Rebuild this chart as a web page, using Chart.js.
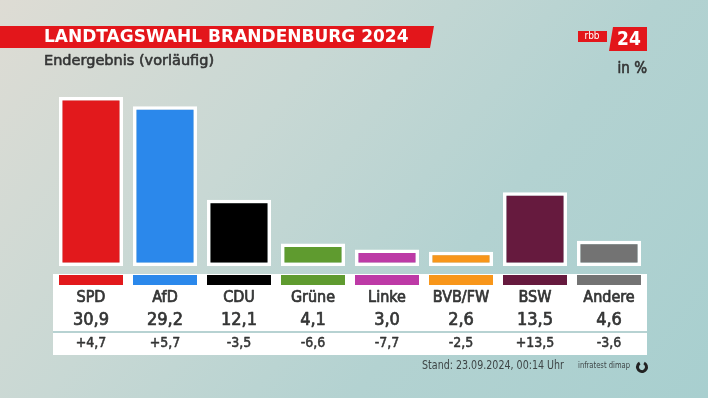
<!DOCTYPE html>
<html>
<head>
<meta charset="utf-8">
<script src="https://cdn.jsdelivr.net/npm/chart.js@4"></script>
<style>
  html, body { margin: 0; padding: 0; }
  body {
    width: 708px; height: 398px; overflow: hidden;
    background: linear-gradient(128deg, #dedcd4 0%, #c8d8d4 35%, #b3d2d1 65%, #a8cfcf 100%);
  }
  canvas { display: block; }
</style>
</head>
<body>
<canvas id="chart" width="708" height="398"></canvas>
<script>
const parties = ['SPD', 'AfD', 'CDU', 'Grüne', 'Linke', 'BVB/FW', 'BSW', 'Andere']
const results = [30.9, 29.2, 12.1, 4.1, 3.0, 2.6, 13.5, 4.6]
const changes = [4.7, 5.7, -3.5, -6.6, -7.7, -2.5, 13.5, -3.6]
const partyColors = ['#e2191c', '#2b88eb', '#000000', '#5f9b2f', '#bd3aa6', '#f8961a', '#661a3e', '#737373']

const FONT = '"DejaVu Sans Condensed", "Liberation Sans Narrow", "DejaVu Sans", sans-serif'
const WIDE = '"DejaVu Sans", "Open Sans", sans-serif'
const TEXT = '#343535'

function fmt(v) {
    return v.toFixed(1).replace('.', ',')
}
function fmtChange(v) {
    return (v > 0 ? '+' : '') + fmt(v)
}
// slightly heavier than regular weight
function medText(ctx, s, x, y, maxW) {
    ctx.fillText(s, x, y, maxW)
    ctx.strokeText(s, x, y, maxW)
}

const decor = {
    id: 'decor',
    beforeDraw(chart) {
        const ctx = chart.ctx
        const x = chart.scales.x
        ctx.save()
        ctx.textBaseline = 'middle'
        ctx.lineJoin = 'round'

        // title banner
        ctx.fillStyle = '#e3161b'
        ctx.beginPath()
        ctx.moveTo(0, 26)
        ctx.lineTo(434, 26)
        ctx.lineTo(430, 48)
        ctx.lineTo(0, 48)
        ctx.closePath()
        ctx.fill()
        ctx.fillStyle = '#ffffff'
        ctx.font = 'bold 17px ' + WIDE
        ctx.fillText('LANDTAGSWAHL BRANDENBURG 2024', 44, 38, 371)

        ctx.fillStyle = TEXT
        ctx.strokeStyle = TEXT
        ctx.lineWidth = 0.6
        ctx.font = '14.5px ' + WIDE
        medText(ctx, 'Endergebnis (vorläufig)', 44, 61, 180)

        // rbb24 logo
        ctx.fillStyle = '#e3161b'
        ctx.fillRect(578, 31, 29, 11)
        ctx.beginPath()
        ctx.moveTo(613, 27)
        ctx.lineTo(647, 27)
        ctx.lineTo(647, 51)
        ctx.lineTo(609, 51)
        ctx.closePath()
        ctx.fill()
        ctx.fillStyle = '#ffffff'
        ctx.font = '10px ' + FONT
        ctx.textAlign = 'center'
        ctx.fillText('rbb', 592, 36.5)
        ctx.font = 'bold 19px ' + FONT
        ctx.fillText('24', 629, 40)

        ctx.fillStyle = TEXT
        ctx.font = '15px ' + FONT
        ctx.textAlign = 'right'
        medText(ctx, 'in %', 647, 69)

        // table
        ctx.fillStyle = '#ffffff'
        ctx.fillRect(53, 274, 594, 81)
        ctx.fillStyle = '#b7d2d2'
        ctx.fillRect(53, 331, 594, 2)

        ctx.textAlign = 'center'
        parties.forEach((p, i) => {
            const cx = x.getPixelForValue(i)
            ctx.fillStyle = partyColors[i]
            ctx.fillRect(cx - 32, 275, 64, 10)
            ctx.fillStyle = TEXT
            ctx.lineWidth = 0.7
            ctx.font = '16px ' + FONT
            medText(ctx, p, cx, 298)
            ctx.font = '18px ' + FONT
            medText(ctx, fmt(results[i]), cx, 320)
            ctx.lineWidth = 0.5
            ctx.font = '14px ' + FONT
            medText(ctx, fmtChange(changes[i]), cx, 343)
        })

        // footer
        ctx.fillStyle = '#3e4546'
        ctx.textAlign = 'left'
        ctx.font = '11.5px ' + WIDE
        ctx.fillText('Stand: 23.09.2024, 00:14 Uhr', 422, 366, 142)
        ctx.font = '9px ' + FONT
        ctx.fillText('infratest dimap', 578, 366, 52)
        ctx.strokeStyle = '#222'
        ctx.lineWidth = 3
        ctx.beginPath()
        ctx.arc(642, 367, 4.5, -1.1, 4.2)
        ctx.stroke()
        ctx.restore()
    }
}

new Chart(document.getElementById('chart'), {
    type: 'bar',
    data: {
        labels: parties,
        datasets: [{
            data: results,
            backgroundColor: partyColors,
            borderColor: '#ffffff',
            borderWidth: 3.5,
            borderSkipped: false,
            categoryPercentage: 1,
            barPercentage: 0.865
        }]
    },
    options: {
        responsive: false,
        devicePixelRatio: 1,
        animation: false,
        layout: { padding: { left: 54, right: 62, top: 97, bottom: 132 } },
        scales: {
            x: { display: false },
            y: { display: false, min: 0, max: 30.9 }
        },
        plugins: {
            legend: { display: false },
            tooltip: { enabled: false }
        }
    },
    plugins: [decor]
})
</script>
</body>
</html>
